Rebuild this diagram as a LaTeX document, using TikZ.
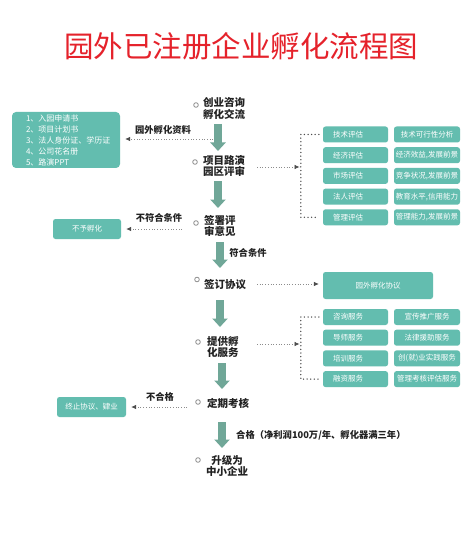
\documentclass[tikz,border=0pt]{standalone}
\usepackage{fontspec}
\setmainfont{Noto Sans CJK SC}
\usetikzlibrary{arrows.meta}
\definecolor{boxc}{HTML}{63BDAF}
\definecolor{arrc}{HTML}{70A798}
\definecolor{titlec}{HTML}{E5222B}
\definecolor{txtc}{HTML}{222222}
\begin{document}
\begin{tikzpicture}[x=1pt,y=-1pt,
  stepnode/.style={font=\fontsize{10.5}{11.5}\selectfont\bfseries, align=center, inner sep=0pt, anchor=west, text=txtc},
  dotc/.style={circle, draw=black!45, line width=0.8pt, minimum size=4.6pt, inner sep=0pt},
  lbl/.style={font=\fontsize{9.3}{11}\selectfont\bfseries, inner sep=0pt, text=txtc},
  tbox/.style={fill=boxc, rounded corners=2.5pt, text=white, font=\fontsize{7.5}{9}\selectfont, inner sep=0pt},
  gridl/.style={tbox, minimum width=65pt, minimum height=16pt, text width=45pt, align=left},
  gridr/.style={tbox, minimum width=66pt, minimum height=16pt, align=center},
  fat/.style={draw=arrc, line width=7.5pt, -{Triangle[width=15pt,length=8.5pt]}},
  dotarrow/.style={draw=black!45, dotted, line width=0.7pt, -{Latex[length=5pt,width=4.5pt,color=black!70]}},
  bracket/.style={draw=black!70, line width=1.5pt, line cap=round, dash pattern=on 0pt off 3.6pt}
]
\useasboundingbox[fill=white] (0,0) rectangle (472,548);

% title
\node[text=titlec, font=\fontsize{29.5}{32}\selectfont, inner sep=0pt] (title) at (241,46) {园外已注册企业孵化流程图};

% main steps
\node[stepnode] (s1) at (203,108.5) {创业咨询\\孵化交流};
\node[dotc] (c1) at (196,105) {};
\node[stepnode] (s2) at (203,166) {项目路演\\园区评审};
\node[dotc] (c2) at (195,162) {};
\node[stepnode] (s3) at (204,226) {签署评\\审意见};
\node[dotc] (c3) at (196,223) {};
\node[stepnode] (s4) at (204,285) {签订协议};
\node[dotc] (c4) at (197,279.5) {};
\node[stepnode] (s5) at (207,347) {提供孵\\化服务};
\node[dotc] (c5) at (198,342) {};
\node[stepnode] (s6) at (207,403) {定期考核};
\node[dotc] (c6) at (198,402) {};
\node[stepnode] (s7) at (206,466) {升级为\\中小企业};
\node[dotc] (c7) at (198,460) {};

% fat arrows
\coordinate (a1s) at (218,124); \coordinate (a1e) at (218,151);
\coordinate (a2s) at (218,181); \coordinate (a2e) at (218,208);
\coordinate (a3s) at (220,242); \coordinate (a3e) at (220,268);
\coordinate (a4s) at (220,300); \coordinate (a4e) at (220,327);
\coordinate (a5s) at (222,363); \coordinate (a5e) at (222,389);
\coordinate (a6s) at (222,422); \coordinate (a6e) at (222,448);
\draw[fat] (a1s) -- (a1e);
\draw[fat] (a2s) -- (a2e);
\draw[fat] (a3s) -- (a3e);
\draw[fat] (a4s) -- (a4e);
\draw[fat] (a5s) -- (a5e);
\draw[fat] (a6s) -- (a6e);

% left boxes
\node[tbox, font=\fontsize{8}{11}\selectfont, minimum width=108pt, minimum height=56pt, text width=80pt, align=left, rounded corners=4pt] (docs) at (66,140)
  {1、入园申请书\\2、项目计划书\\3、法人身份证、学历证\\4、公司花名册\\5、路演PPT};
\node[tbox, minimum width=68pt, minimum height=20pt] (nofuhua) at (87,229) {不予孵化};
\node[tbox, minimum width=69pt, minimum height=20pt] (stop) at (91.5,407) {终止协议、肄业};

% left labels and arrows
\node[lbl] (l1) at (163,130) {园外孵化资料};
\coordinate (d1) at (213,139);
\draw[dotarrow, shorten >=5pt] (d1) -- (docs.east |- d1);
\node[lbl] (l2) at (159,218) {不符合条件};
\coordinate (d2) at (182,229);
\draw[dotarrow, shorten >=5pt] (d2) -- (nofuhua.east |- d2);
\node[lbl] (l3) at (248,253) {符合条件};
\node[lbl] (l4) at (160,397) {不合格};
\coordinate (d3) at (187,407);
\draw[dotarrow, shorten >=5pt] (d3) -- (stop.east |- d3);
\node[lbl, anchor=west] (l5) at (236,435) {合格（净利润100万/年、孵化器满三年）};

% evaluation grid
\foreach \i/\l/\r in {1/技术评估/{技术可行性分析}, 2/经济评估/{经济效益,发展前景}, 3/市场评估/{竞争状况,发展前景}, 4/法人评估/{教育水平,信用能力}, 5/管理评估/{管理能力,发展前景}}{
  \node[gridl] (g\i l) at (355.5,{134.5+20.7*(\i-1)}) {\l};
  \node[gridr] (g\i r) at (427,{134.5+20.7*(\i-1)}) {\r};
}
\draw[bracket] ([xshift=-4pt]g1l.west) -- ++(-18,0) coordinate (bk1top) |- ([xshift=-4pt]g5l.west);
\coordinate (r2) at (257,167);
\coordinate (bk1) at (301,167);
\draw[dotarrow, shorten >=1.5pt] (r2) -- (bk1);

% agreement
\node[tbox, minimum width=110pt, minimum height=27pt] (agree) at (378,285.5) {园外孵化协议};
\coordinate (r4) at (257,284);
\draw[dotarrow, shorten >=4pt] (r4) -- (agree.west |- r4);

% services grid
\foreach \i/\l/\r in {1/咨询服务/宣传推广服务, 2/导师服务/法律援助服务, 3/培训服务/创(就)业实践服务, 4/融资服务/管理考核评估服务}{
  \node[gridl] (h\i l) at (355.5,{317+20.7*(\i-1)}) {\l};
  \node[gridr] (h\i r) at (427,{317+20.7*(\i-1)}) {\r};
}
\draw[bracket] ([xshift=-4pt]h1l.west) -- ++(-18,0) |- ([xshift=-4pt]h4l.west);
\coordinate (r5) at (257,344);
\coordinate (bk2) at (301,344);
\draw[dotarrow, shorten >=1.5pt] (r5) -- (bk2);
\end{tikzpicture}
\end{document}
